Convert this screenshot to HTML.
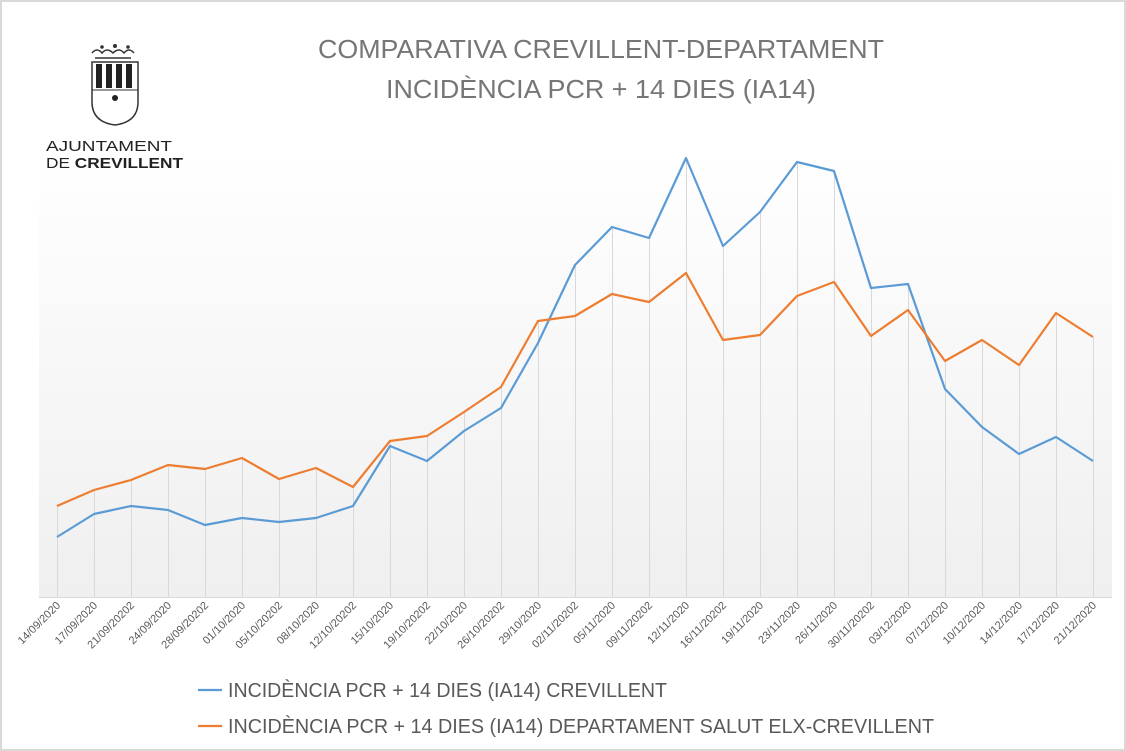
<!DOCTYPE html>
<html><head><meta charset="utf-8"><style>
html,body{margin:0;padding:0;background:#fff}
svg{display:block}
text{font-family:"Liberation Sans",sans-serif}
</style></head><body>
<svg width="1126" height="751" viewBox="0 0 1126 751" xmlns="http://www.w3.org/2000/svg">
<defs>
<linearGradient id="bg" x1="0" y1="0" x2="0" y2="1">
<stop offset="0" stop-color="#ffffff"/>
<stop offset="1" stop-color="#efefef"/>
</linearGradient>
</defs>
<rect x="1" y="1" width="1124" height="749" fill="#fff" stroke="#d9d9d9" stroke-width="2"/>
<rect x="39" y="150" width="1073" height="447" fill="url(#bg)"/>
<g stroke="#dcdcdc" stroke-width="1">
<script></script>
</g>
<g id="grid" stroke="#d9d9d9" stroke-width="1"></g>
<line x1="39" y1="597.5" x2="1112" y2="597.5" stroke="#d9d9d9"/>
<!-- logo -->
<g fill="none" stroke="#333" stroke-width="1.5">
<path d="M92 53 q5 -6 10 0 q5 -6 11 0 q6 -6 11 0 q5 -6 10 0"/>
<line x1="95" y1="58" x2="131" y2="58"/>
<path d="M92 62 H138 V102 Q138 122 115 125 Q92 122 92 102 Z"/>
</g>
<circle cx="115" cy="46" r="2" fill="#333"/><circle cx="102" cy="47" r="1.8" fill="#333"/><circle cx="128" cy="47" r="1.8" fill="#333"/>
<g fill="#222">
<rect x="96" y="64" width="6" height="24"/><rect x="106" y="64" width="6" height="24"/><rect x="116" y="64" width="6" height="24"/><rect x="126" y="64" width="6" height="24"/>
<circle cx="115" cy="98" r="3"/>
</g>
<line x1="92" y1="90" x2="138" y2="90" stroke="#333"/>
<text x="46" y="151" font-size="15" fill="#222" textLength="126" lengthAdjust="spacingAndGlyphs">AJUNTAMENT</text>
<text x="46" y="168" font-size="15" fill="#222" textLength="137" lengthAdjust="spacingAndGlyphs">DE <tspan font-weight="bold">CREVILLENT</tspan></text>
<!-- title -->
<text x="601" y="58" font-size="26" fill="#767676" text-anchor="middle" textLength="566" lengthAdjust="spacingAndGlyphs">COMPARATIVA CREVILLENT-DEPARTAMENT</text>
<text x="601" y="98" font-size="26" fill="#767676" text-anchor="middle" textLength="430" lengthAdjust="spacingAndGlyphs">INCIDÈNCIA PCR + 14 DIES (IA14)</text>
<g id="labels" font-size="11" fill="#595959"></g>
<polyline id="b" fill="none" stroke="#5b9bd5" stroke-width="2.2" stroke-linejoin="round"/>
<polyline id="o" fill="none" stroke="#ed7d31" stroke-width="2.2" stroke-linejoin="round"/>
<line x1="198" y1="690" x2="222" y2="690" stroke="#5b9bd5" stroke-width="2.2"/>
<text x="228" y="697" font-size="20" fill="#595959" textLength="439" lengthAdjust="spacingAndGlyphs">INCIDÈNCIA PCR + 14 DIES (IA14) CREVILLENT</text>
<line x1="198" y1="726" x2="222" y2="726" stroke="#ed7d31" stroke-width="2.2"/>
<text x="228" y="733" font-size="20" fill="#595959" textLength="706" lengthAdjust="spacingAndGlyphs">INCIDÈNCIA PCR + 14 DIES (IA14) DEPARTAMENT SALUT ELX-CREVILLENT</text>
</svg>
<script>
var B=[537,514,506,510,525,518,522,518,506,446,461,431,408,343,265,227,238,158,246,212,162,171,288,284,389,427,454,437,461];
var O=[506,490,480,465,469,458,479,468,487,441,436,412,387,321,316,294,302,273,340,335,296,282,336,310,361,340,365,313,337];
var L=["14/09/2020","17/09/2020","21/09/20202","24/09/2020","28/09/20202","01/10/2020","05/10/20202","08/10/2020","12/10/20202","15/10/2020","19/10/20202","22/10/2020","26/10/20202","29/10/2020","02/11/20202","05/11/2020","09/11/20202","12/11/2020","16/11/20202","19/11/2020","23/11/2020","26/11/2020","30/11/20202","03/12/2020","07/12/2020","10/12/2020","14/12/2020","17/12/2020","21/12/2020"];
var ns="http://www.w3.org/2000/svg",g=document.getElementById("grid"),lb=document.getElementById("labels");
var pb=[],po=[];
for(var i=0;i<29;i++){var x=57+37*i;
pb.push(x+","+B[i]);po.push(x+","+O[i]);
var l=document.createElementNS(ns,"line");l.setAttribute("x1",x+.5);l.setAttribute("x2",x+.5);l.setAttribute("y1",Math.min(B[i],O[i]));l.setAttribute("y2",597);g.appendChild(l);
var t=document.createElementNS(ns,"text");t.setAttribute("text-anchor","end");t.setAttribute("transform","translate("+(x+4)+",606) rotate(-45)");t.textContent=L[i];lb.appendChild(t);}
document.getElementById("b").setAttribute("points",pb.join(" "));
document.getElementById("o").setAttribute("points",po.join(" "));
</script>
</body></html>
